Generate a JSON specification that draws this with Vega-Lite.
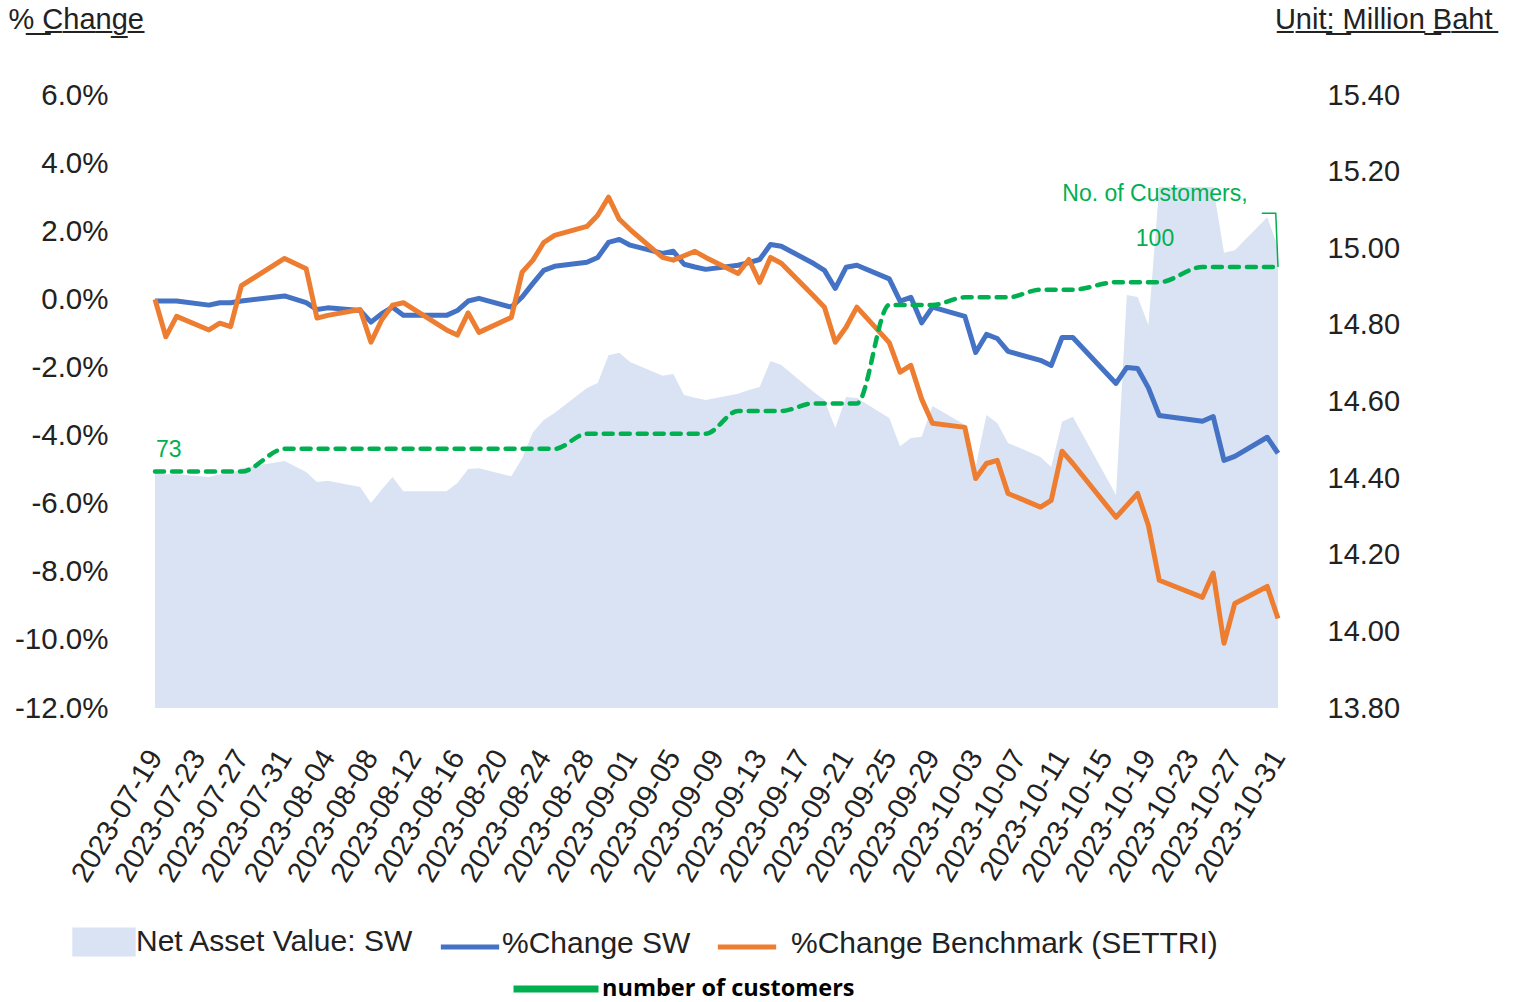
{
  "$schema": "https://vega.github.io/schema/vega-lite/v6.json",
  "width": 1123,
  "height": 613,
  "autosize": {"type": "none"},
  "padding": {"left": 155, "top": 95, "right": 236, "bottom": 294},
  "background": "white",
  "config": {"view": {"stroke": null}, "font": "Liberation Sans"},
  "datasets": {
    "main": [
      {"d": "2023-07-19", "sw": -0.05, "bench": 0.0, "nav": 14.416, "cust": 73},
      {"d": "2023-07-20", "sw": -0.05, "bench": -1.1, "nav": 14.41, "cust": 73},
      {"d": "2023-07-21", "sw": -0.05, "bench": -0.5, "nav": 14.41, "cust": 73},
      {"d": "2023-07-24", "sw": -0.17, "bench": -0.9, "nav": 14.403, "cust": 73},
      {"d": "2023-07-25", "sw": -0.1, "bench": -0.7, "nav": 14.41, "cust": 73},
      {"d": "2023-07-26", "sw": -0.1, "bench": -0.8, "nav": 14.41, "cust": 73},
      {"d": "2023-07-27", "sw": -0.05, "bench": 0.4, "nav": 14.426, "cust": 73},
      {"d": "2023-07-31", "sw": 0.1, "bench": 1.2, "nav": 14.445, "cust": 76},
      {"d": "2023-08-02", "sw": -0.1, "bench": 0.9, "nav": 14.416, "cust": 76},
      {"d": "2023-08-03", "sw": -0.3, "bench": -0.55, "nav": 14.39, "cust": 76},
      {"d": "2023-08-04", "sw": -0.25, "bench": -0.47, "nav": 14.393, "cust": 76},
      {"d": "2023-08-07", "sw": -0.33, "bench": -0.3, "nav": 14.377, "cust": 76},
      {"d": "2023-08-08", "sw": -0.67, "bench": -1.26, "nav": 14.335, "cust": 76},
      {"d": "2023-08-09", "sw": -0.42, "bench": -0.6, "nav": 14.37, "cust": 76},
      {"d": "2023-08-10", "sw": -0.23, "bench": -0.17, "nav": 14.403, "cust": 76},
      {"d": "2023-08-11", "sw": -0.47, "bench": -0.1, "nav": 14.366, "cust": 76},
      {"d": "2023-08-15", "sw": -0.47, "bench": -0.9, "nav": 14.366, "cust": 76},
      {"d": "2023-08-16", "sw": -0.33, "bench": -1.05, "nav": 14.387, "cust": 76},
      {"d": "2023-08-17", "sw": -0.05, "bench": -0.4, "nav": 14.424, "cust": 76},
      {"d": "2023-08-18", "sw": 0.03, "bench": -0.97, "nav": 14.426, "cust": 76},
      {"d": "2023-08-21", "sw": -0.23, "bench": -0.53, "nav": 14.405, "cust": 76},
      {"d": "2023-08-22", "sw": 0.07, "bench": 0.8, "nav": 14.452, "cust": 76},
      {"d": "2023-08-23", "sw": 0.47, "bench": 1.15, "nav": 14.52, "cust": 76},
      {"d": "2023-08-24", "sw": 0.85, "bench": 1.67, "nav": 14.552, "cust": 76},
      {"d": "2023-08-25", "sw": 0.97, "bench": 1.88, "nav": 14.57, "cust": 76},
      {"d": "2023-08-28", "sw": 1.09, "bench": 2.14, "nav": 14.635, "cust": 78},
      {"d": "2023-08-29", "sw": 1.23, "bench": 2.47, "nav": 14.648, "cust": 78},
      {"d": "2023-08-30", "sw": 1.67, "bench": 3.0, "nav": 14.721, "cust": 78},
      {"d": "2023-08-31", "sw": 1.76, "bench": 2.35, "nav": 14.727, "cust": 78},
      {"d": "2023-09-01", "sw": 1.59, "bench": 2.05, "nav": 14.703, "cust": 78},
      {"d": "2023-09-04", "sw": 1.35, "bench": 1.23, "nav": 14.667, "cust": 78},
      {"d": "2023-09-05", "sw": 1.41, "bench": 1.15, "nav": 14.672, "cust": 78},
      {"d": "2023-09-06", "sw": 1.03, "bench": 1.28, "nav": 14.617, "cust": 78},
      {"d": "2023-09-07", "sw": 0.95, "bench": 1.41, "nav": 14.61, "cust": 78},
      {"d": "2023-09-08", "sw": 0.88, "bench": 1.23, "nav": 14.604, "cust": 78},
      {"d": "2023-09-11", "sw": 1.0, "bench": 0.76, "nav": 14.62, "cust": 81},
      {"d": "2023-09-12", "sw": 1.08, "bench": 1.17, "nav": 14.63, "cust": 81},
      {"d": "2023-09-13", "sw": 1.17, "bench": 0.5, "nav": 14.638, "cust": 81},
      {"d": "2023-09-14", "sw": 1.61, "bench": 1.23, "nav": 14.706, "cust": 81},
      {"d": "2023-09-15", "sw": 1.56, "bench": 1.06, "nav": 14.695, "cust": 81},
      {"d": "2023-09-18", "sw": 1.05, "bench": 0.1, "nav": 14.625, "cust": 82},
      {"d": "2023-09-19", "sw": 0.85, "bench": -0.23, "nav": 14.604, "cust": 82},
      {"d": "2023-09-20", "sw": 0.32, "bench": -1.26, "nav": 14.531, "cust": 82},
      {"d": "2023-09-21", "sw": 0.94, "bench": -0.82, "nav": 14.612, "cust": 82},
      {"d": "2023-09-22", "sw": 1.0, "bench": -0.23, "nav": 14.609, "cust": 82},
      {"d": "2023-09-25", "sw": 0.6, "bench": -1.27, "nav": 14.557, "cust": 95},
      {"d": "2023-09-26", "sw": -0.05, "bench": -2.14, "nav": 14.483, "cust": 95},
      {"d": "2023-09-27", "sw": 0.06, "bench": -1.94, "nav": 14.505, "cust": 95},
      {"d": "2023-09-28", "sw": -0.69, "bench": -2.93, "nav": 14.508, "cust": 95},
      {"d": "2023-09-29", "sw": -0.23, "bench": -3.64, "nav": 14.588, "cust": 95},
      {"d": "2023-10-02", "sw": -0.5, "bench": -3.76, "nav": 14.539, "cust": 96},
      {"d": "2023-10-03", "sw": -1.56, "bench": -5.26, "nav": 14.43, "cust": 96},
      {"d": "2023-10-04", "sw": -1.03, "bench": -4.82, "nav": 14.565, "cust": 96},
      {"d": "2023-10-05", "sw": -1.15, "bench": -4.73, "nav": 14.544, "cust": 96},
      {"d": "2023-10-06", "sw": -1.53, "bench": -5.7, "nav": 14.492, "cust": 96},
      {"d": "2023-10-09", "sw": -1.79, "bench": -6.1, "nav": 14.455, "cust": 97},
      {"d": "2023-10-10", "sw": -1.94, "bench": -5.9, "nav": 14.429, "cust": 97},
      {"d": "2023-10-11", "sw": -1.12, "bench": -4.46, "nav": 14.547, "cust": 97},
      {"d": "2023-10-12", "sw": -1.12, "bench": -4.82, "nav": 14.56, "cust": 97},
      {"d": "2023-10-16", "sw": -2.47, "bench": -6.4, "nav": 14.356, "cust": 98},
      {"d": "2023-10-17", "sw": -2.0, "bench": -6.05, "nav": 14.878, "cust": 98},
      {"d": "2023-10-18", "sw": -2.03, "bench": -5.7, "nav": 14.873, "cust": 98},
      {"d": "2023-10-19", "sw": -2.6, "bench": -6.64, "nav": 14.8, "cust": 98},
      {"d": "2023-10-20", "sw": -3.41, "bench": -8.25, "nav": 15.16, "cust": 98},
      {"d": "2023-10-24", "sw": -3.58, "bench": -8.75, "nav": 15.16, "cust": 100},
      {"d": "2023-10-25", "sw": -3.44, "bench": -8.04, "nav": 15.16, "cust": 100},
      {"d": "2023-10-26", "sw": -4.73, "bench": -10.1, "nav": 14.988, "cust": 100},
      {"d": "2023-10-27", "sw": -4.61, "bench": -8.93, "nav": 14.995, "cust": 100},
      {"d": "2023-10-30", "sw": -4.05, "bench": -8.43, "nav": 15.081, "cust": 100},
      {"d": "2023-10-31", "sw": -4.52, "bench": -9.37, "nav": 15.003, "cust": 100}
    ],
    "first": [{"d": "2023-07-19", "cust": 73, "txt": "73"}],
    "last": [{"d": "2023-10-31", "cust": 100, "txt": "No. of Customers,\n100"}],
    "leader": [
      {"d": "2023-10-29T12:00:00Z", "cust": 107.1},
      {"d": "2023-10-30T19:00:00Z", "cust": 107.1},
      {"d": "2023-10-31", "cust": 100}
    ]
  },
  "encoding": {
    "x": {
      "field": "d",
      "type": "temporal",
      "scale": {
        "type": "utc",
        "domain": [
          {"year": 2023, "month": 7, "date": 19, "utc": true},
          {"year": 2023, "month": 10, "date": 31, "utc": true}
        ],
        "nice": false
      },
      "axis": {
        "title": null,
        "values": [
          {"year": 2023, "month": 7, "date": 19, "utc": true},
          {"year": 2023, "month": 7, "date": 23, "utc": true},
          {"year": 2023, "month": 7, "date": 27, "utc": true},
          {"year": 2023, "month": 7, "date": 31, "utc": true},
          {"year": 2023, "month": 8, "date": 4, "utc": true},
          {"year": 2023, "month": 8, "date": 8, "utc": true},
          {"year": 2023, "month": 8, "date": 12, "utc": true},
          {"year": 2023, "month": 8, "date": 16, "utc": true},
          {"year": 2023, "month": 8, "date": 20, "utc": true},
          {"year": 2023, "month": 8, "date": 24, "utc": true},
          {"year": 2023, "month": 8, "date": 28, "utc": true},
          {"year": 2023, "month": 9, "date": 1, "utc": true},
          {"year": 2023, "month": 9, "date": 5, "utc": true},
          {"year": 2023, "month": 9, "date": 9, "utc": true},
          {"year": 2023, "month": 9, "date": 13, "utc": true},
          {"year": 2023, "month": 9, "date": 17, "utc": true},
          {"year": 2023, "month": 9, "date": 21, "utc": true},
          {"year": 2023, "month": 9, "date": 25, "utc": true},
          {"year": 2023, "month": 9, "date": 29, "utc": true},
          {"year": 2023, "month": 10, "date": 3, "utc": true},
          {"year": 2023, "month": 10, "date": 7, "utc": true},
          {"year": 2023, "month": 10, "date": 11, "utc": true},
          {"year": 2023, "month": 10, "date": 15, "utc": true},
          {"year": 2023, "month": 10, "date": 19, "utc": true},
          {"year": 2023, "month": 10, "date": 23, "utc": true},
          {"year": 2023, "month": 10, "date": 27, "utc": true},
          {"year": 2023, "month": 10, "date": 31, "utc": true}
        ],
        "format": "%Y-%m-%d",
        "labelAngle": -59,
        "labelAlign": "right",
        "labelBaseline": "middle",
        "labelPadding": 44,
        "ticks": false,
        "tickSize": 0,
        "domain": false,
        "grid": false,
        "labelFont": "Liberation Sans",
        "labelFontSize": 29,
        "labelColor": "#222222",
        "labelOverlap": false,
        "labelBound": false,
        "labelFlush": false,
        "labelLimit": 0
      }
    }
  },
  "layer": [
    {
      "data": {"name": "main"},
      "mark": {"type": "area"},
      "encoding": {
        "y": {
          "field": "nav",
          "type": "quantitative",
          "scale": {"domain": [13.8, 15.4], "zero": false, "nice": false},
          "axis": {
            "orient": "right",
            "values": [13.8, 14, 14.2, 14.4, 14.6, 14.8, 15, 15.2, 15.4],
            "format": ".2f",
            "grid": false,
            "ticks": false,
            "tickSize": 0,
            "domain": false,
            "labelPadding": 49,
            "labelFont": "Liberation Sans",
            "labelFontSize": 29,
            "labelColor": "#222222",
            "title": "U\u0332n\u0332i\u0332t\u0332:\u0332 \u0332M\u0332i\u0332l\u0332l\u0332i\u0332o\u0332n\u0332 \u0332B\u0332a\u0332h\u0332t\u0332",
            "titleAngle": 0,
            "titleX": 214,
            "titleY": -67,
            "titleAlign": "right",
            "titleBaseline": "alphabetic",
            "titleFont": "Liberation Sans",
            "titleFontSize": 29,
            "titleFontWeight": "normal",
            "titleColor": "#222222",
            "titleLimit": 0
          }
        },
        "y2": {"datum": 13.8},
        "color": {
          "datum": "Net Asset Value: SW",
          "type": "nominal",
          "scale": {
            "domain": ["Net Asset Value: SW", "%Change SW", "%Change Benchmark (SETTRI)"],
            "range": ["#DAE3F3", "#4472C4", "#ED7D31"]
          },
          "legend": {
            "orient": "none",
            "legendX": -83,
            "legendY": 815,
            "direction": "horizontal",
            "title": null,
            "padding": 0,
            "labelFont": "Liberation Sans",
            "labelFontSize": 30,
            "labelColor": "#222222",
            "labelOffset": 0,
            "labelLimit": 0,
            "columnPadding": 16,
            "symbolSize": 3400,
            "symbolStrokeWidth": 5,
            "encode": {
              "symbols": {
                "update": {
                  "shape": {"signal": "datum.value === 'Net Asset Value: SW' ? 'M-1,-0.41H1V0.41H-1Z' : 'M-1,0H1'"},
                  "fill": {"signal": "datum.value === 'Net Asset Value: SW' ? '#DAE3F3' : 'transparent'"},
                  "stroke": {"signal": "datum.value === 'Net Asset Value: SW' ? 'transparent' : (datum.value === '%Change SW' ? '#4472C4' : '#ED7D31')"},
                  "strokeWidth": {"value": 5},
                  "opacity": {"value": 1}
                }
              },
              "labels": {
                "update": {
                  "dx": {"signal": "datum.value === '%Change Benchmark (SETTRI)' ? 12 : 0"},
                  "dy": {"signal": "datum.value === 'Net Asset Value: SW' ? 0 : -3"}
                }
              }
            }
          }
        }
      }
    },
    {
      "data": {"name": "main"},
      "mark": {"type": "line", "strokeWidth": 5, "strokeJoin": "round"},
      "encoding": {
        "y": {
          "field": "sw",
          "type": "quantitative",
          "scale": {"domain": [-12, 6], "zero": false, "nice": false},
          "axis": {
            "orient": "left",
            "values": [-12, -10, -8, -6, -4, -2, 0, 2, 4, 6],
            "labelExpr": "(datum.value < 0 ? '-' : '') + format(abs(datum.value), '.1f') + '%'",
            "grid": false,
            "ticks": false,
            "tickSize": 0,
            "domain": false,
            "labelPadding": 47,
            "labelFont": "Liberation Sans",
            "labelFontSize": 29.5,
            "labelColor": "#222222",
            "title": "%\u0332 \u0332C\u0332h\u0332a\u0332n\u0332g\u0332e\u0332",
            "titleAngle": 0,
            "titleX": -147,
            "titleY": -67,
            "titleAlign": "left",
            "titleBaseline": "alphabetic",
            "titleFont": "Liberation Sans",
            "titleFontSize": 29,
            "titleFontWeight": "normal",
            "titleColor": "#222222"
          }
        },
        "color": {
          "datum": "%Change SW",
          "type": "nominal",
          "scale": {
            "domain": ["Net Asset Value: SW", "%Change SW", "%Change Benchmark (SETTRI)"],
            "range": ["#DAE3F3", "#4472C4", "#ED7D31"]
          }
        }
      }
    },
    {
      "data": {"name": "main"},
      "mark": {"type": "line", "strokeWidth": 5, "strokeJoin": "round"},
      "encoding": {
        "y": {
          "field": "bench",
          "type": "quantitative",
          "scale": {"domain": [-12, 6], "zero": false, "nice": false},
          "axis": null
        },
        "color": {
          "datum": "%Change Benchmark (SETTRI)",
          "type": "nominal",
          "scale": {
            "domain": ["Net Asset Value: SW", "%Change SW", "%Change Benchmark (SETTRI)"],
            "range": ["#DAE3F3", "#4472C4", "#ED7D31"]
          }
        }
      }
    },
    {
      "data": {"name": "main"},
      "mark": {"type": "line", "strokeWidth": 4.5, "strokeDash": [9, 8], "strokeCap": "round", "interpolate": "monotone"},
      "encoding": {
        "y": {
          "field": "cust",
          "type": "quantitative",
          "scale": {"domain": [41.8, 122.7], "zero": false, "nice": false},
          "axis": null
        },
        "stroke": {
          "datum": "number of customers",
          "type": "nominal",
          "scale": {"domain": ["number of customers"], "range": ["#00B050"]},
          "legend": {
            "orient": "none",
            "legendX": 355,
            "legendY": 848,
            "title": null,
            "padding": 0,
            "labelFont": "Open Sans",
            "labelFontWeight": "bold",
            "labelFontSize": 23.5,
            "labelColor": "#000000",
            "labelOffset": 0,
            "labelLimit": 0,
            "symbolType": "M-1,0H1",
            "symbolSize": 7225,
            "symbolStrokeWidth": 7,
            "encode": {
              "symbols": {
                "update": {
                  "strokeDash": {"value": [1, 0]},
                  "strokeCap": {"value": "butt"},
                  "stroke": {"value": "#00B050"},
                  "strokeWidth": {"value": 7},
                  "opacity": {"value": 1}
                }
              }
            }
          }
        }
      }
    },
    {
      "data": {"name": "leader"},
      "mark": {"type": "line", "strokeWidth": 1.5, "color": "#00B050"},
      "encoding": {
        "y": {
          "field": "cust",
          "type": "quantitative",
          "scale": {"domain": [41.8, 122.7], "zero": false, "nice": false},
          "axis": null
        }
      }
    },
    {
      "data": {"name": "first"},
      "mark": {"type": "text", "align": "left", "baseline": "alphabetic", "dx": 1, "dy": -15, "fontSize": 23, "font": "Liberation Sans", "color": "#00B050"},
      "encoding": {
        "y": {
          "field": "cust",
          "type": "quantitative",
          "scale": {"domain": [41.8, 122.7], "zero": false, "nice": false},
          "axis": null
        },
        "text": {"field": "txt"}
      }
    },
    {
      "data": {"name": "last"},
      "mark": {"type": "text", "align": "center", "baseline": "alphabetic", "dx": -123, "dy": -66, "fontSize": 23, "font": "Liberation Sans", "color": "#00B050", "lineBreak": "\n", "lineHeight": 45},
      "encoding": {
        "y": {
          "field": "cust",
          "type": "quantitative",
          "scale": {"domain": [41.8, 122.7], "zero": false, "nice": false},
          "axis": null
        },
        "text": {"field": "txt"}
      }
    }
  ],
  "resolve": {"scale": {"y": "independent"}, "axis": {"y": "independent"}}
}
